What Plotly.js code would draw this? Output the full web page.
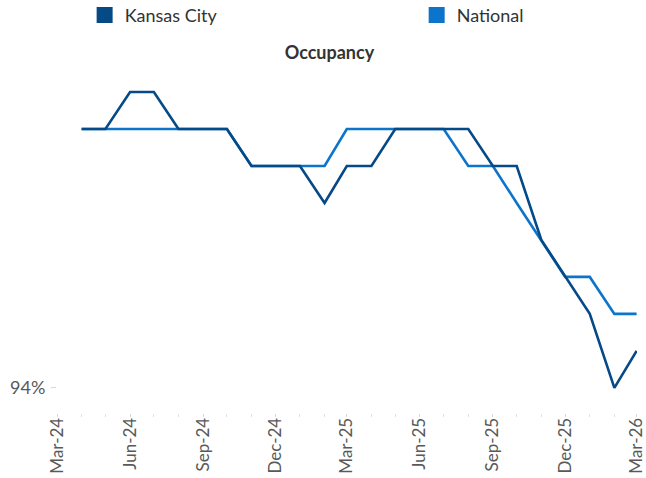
<!DOCTYPE html>
<html>
<head>
<meta charset="utf-8">
<script src="https://cdn.plot.ly/plotly-3.0.1.min.js"></script>
<style>html,body{margin:0;padding:0;background:#fff;}#chart{width:646px;height:478px;}</style>
</head>
<body>
<div id="chart"></div>
<script>
var months = ["2024-04-01","2024-05-01","2024-06-01","2024-07-01","2024-08-01","2024-09-01","2024-10-01","2024-11-01","2024-12-01",
  "2025-01-01","2025-02-01","2025-03-01","2025-04-01","2025-05-01","2025-06-01","2025-07-01","2025-08-01","2025-09-01",
  "2025-10-01","2025-11-01","2025-12-01","2026-01-01","2026-02-01","2026-03-01"];
var kansasCity = [94.7,94.7,94.8,94.8,94.7,94.7,94.7,94.6,94.6,94.6,94.5,94.6,94.6,94.7,94.7,94.7,94.7,94.6,94.6,94.4,94.3,94.2,94.0,94.1];
var national   = [94.7,94.7,94.7,94.7,94.7,94.7,94.7,94.6,94.6,94.6,94.6,94.7,94.7,94.7,94.7,94.7,94.6,94.6,94.5,94.4,94.3,94.3,94.2,94.2];
var seriesNames = ["Kansas City","National"];
var colors = ["#054a87","#0d74cc"];

var font = "Lato, 'Open Sans', sans-serif";
var traces = [
  {x: months, y: national, type: "scatter", mode: "lines", name: seriesNames[1], showlegend: false,
   line: {color: colors[1], width: 2.6}},
  {x: months, y: kansasCity, type: "scatter", mode: "lines", name: seriesNames[0], showlegend: false,
   line: {color: colors[0], width: 2.6}},
  {x: [null], y: [null], type: "scatter", mode: "markers", name: seriesNames[0], showlegend: true, legend: "legend",
   marker: {symbol: "square", size: 16, color: colors[0]}},
  {x: [null], y: [null], type: "scatter", mode: "markers", name: seriesNames[1], showlegend: true, legend: "legend2",
   marker: {symbol: "square", size: 16, color: colors[1]}}
];

var legendFont = {family: font, size: 18, color: "#333"};
var layout = {
  width: 646, height: 478,
  paper_bgcolor: "#fff", plot_bgcolor: "#fff",
  margin: {l: 57, r: 9, t: 75, b: 65},
  font: {family: font, color: "#595959", size: 16},
  title: {text: "<b>Occupancy</b>", x: 0.51, xref: "container", xanchor: "center",
          y: 0.889, yref: "container", yanchor: "middle",
          font: {family: font, size: 18, color: "#333"}},
  showlegend: true,
  legend: {orientation: "h", xref: "container", yref: "container", x: 0.131, y: 0.968,
           xanchor: "left", yanchor: "middle", font: legendFont, itemwidth: 30},
  legend2: {orientation: "h", xref: "container", yref: "container", x: 0.645, y: 0.968,
           xanchor: "left", yanchor: "middle", font: legendFont, itemwidth: 30},
  xaxis: {
    type: "date", range: ["2024-03-01","2026-03-01 12:00"],
    tick0: "2024-03-01", dtick: "M3", tickformat: "%b-%y", tickangle: -90,
    ticks: "outside", ticklen: 3, tickcolor: "#d9d9d9", ticklabelstandoff: -6,
    ticklabeloverflow: "allow",
    minor: {dtick: "M1", ticks: "outside", ticklen: 3, tickcolor: "#e0e0e0"},
    showgrid: false, zeroline: false, showline: false,
    tickfont: {family: font, size: 17, color: "#595959"}
  },
  yaxis: {
    range: [93.932, 94.846], tick0: 94, dtick: 1, ticksuffix: "%", tickformat: ".0f",
    ticks: "outside", ticklen: 5, tickcolor: "#d9d9d9", ticklabelstandoff: 2,
    showgrid: false, zeroline: false, showline: false,
    tickfont: {family: font, size: 18, color: "#595959"}
  }
};

Plotly.newPlot("chart", traces, layout, {displayModeBar: false, staticPlot: true});
</script>
</body>
</html>
